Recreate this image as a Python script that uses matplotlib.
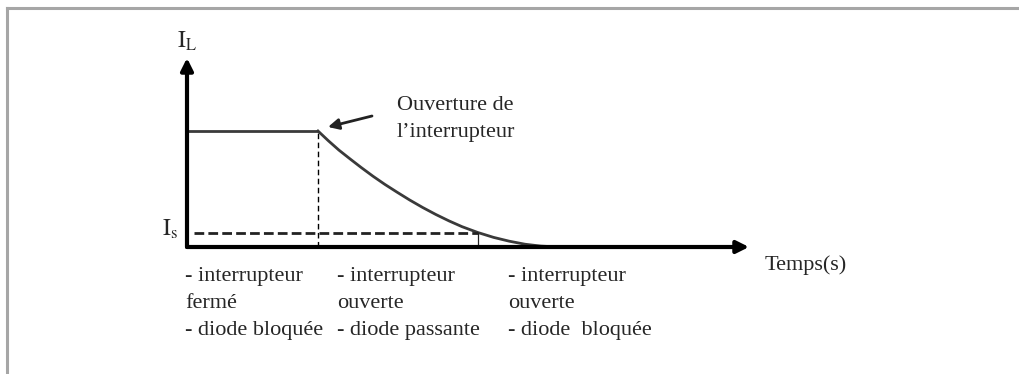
import numpy as np
import matplotlib.pyplot as plt
from matplotlib.lines import Line2D

plt.rcParams['font.family'] = ['Liberation Serif', 'DejaVu Serif']
plt.rcParams['mathtext.fontset'] = 'stix'

t_ouverture = 1.0
I_0 = 1.0
I_s = 0.12
t_Is = 2.22
t_plat = [0.0, 1.0]
I_plat = [1.0, 1.0]
t_decr = [1.0, 1.08, 1.16, 1.244, 1.33, 1.42, 1.51, 1.6, 1.7, 1.8, 1.9, 2.0,
          2.1, 2.22, 2.34, 2.46, 2.58, 2.7, 2.8, 2.87]
I_decr = [1.0, 0.915, 0.835, 0.76, 0.685, 0.61, 0.54, 0.475, 0.405, 0.34, 0.28, 0.225,
          0.175, 0.125, 0.083, 0.05, 0.024, 0.008, 0.002, 0.0]

phases = [
    ["- interrupteur", "fermé", "- diode bloquée"],
    ["- interrupteur", "ouverte", "- diode passante"],
    ["- interrupteur", "ouverte", "- diode  bloquée"],
]
t_phases = [-0.015, 1.145, 2.45]

W, H = 1020, 374
fig = plt.figure(figsize=(W / 100, H / 100), dpi=100)
fig.patch.set_facecolor('white')

# cadre gris (haut et gauche)
fig.add_artist(Line2D([7 / W, 1.0], [1 - 8 / H, 1 - 8 / H], color='#a6a6a6', lw=2.2))
fig.add_artist(Line2D([7 / W, 7 / W], [0.0, 1 - 8 / H], color='#a6a6a6', lw=2.2))

x0, y0 = 187, 247
kx, ky = 131.0, 116.0
xmax = (749 - x0) / kx
ymax = (y0 - 58) / ky
ax = fig.add_axes([x0 / W, (H - y0) / H, (749 - x0) / W, (y0 - 58) / H])
ax.set_xlim(0, xmax)
ax.set_ylim(0, ymax)
ax.axis('off')

col = '#3a3a3a'
ax.plot(t_plat, I_plat, color=col, lw=2.0, solid_capstyle='butt', clip_on=False)
ax.plot(t_decr, I_decr, color=col, lw=2.0, clip_on=False)
ax.plot([t_ouverture, t_ouverture], [0, I_0], color='black', lw=1.0, ls=(0, (4, 2.5)))
ax.plot([0.05, t_Is], [I_s, I_s], color='#222222', lw=2.0, ls=(0, (3.5, 1.5)))
ax.plot([t_Is, t_Is], [0.03, I_s], color='#222222', lw=0.9)

# axes avec fleches
ax.annotate('', xy=(xmax, 0), xytext=(0, 0), annotation_clip=False,
            arrowprops=dict(arrowstyle='-|>', color='black', lw=3.0, mutation_scale=18,
                            shrinkA=0, shrinkB=0))
ax.annotate('', xy=(0, ymax), xytext=(0, 0), annotation_clip=False,
            arrowprops=dict(arrowstyle='-|>', color='black', lw=3.0, mutation_scale=18,
                            shrinkA=0, shrinkB=0))

txt = '#262626'
fs = 16
ax.text(0.0, (y0 - 41) / ky, r'$\mathrm{I_L}$', fontsize=17, color=txt,
        ha='center', va='center', clip_on=False)
ax.text(-0.072, I_s + 0.03, r'$\mathrm{I_s}$', fontsize=17, color=txt,
        ha='right', va='center', clip_on=False)
ax.text((765 - x0) / kx, (y0 - 265) / ky, 'Temps(s)', fontsize=fs, color=txt,
        ha='left', va='center', clip_on=False)

ax.text((397 - x0) / kx, (y0 - 105) / ky, 'Ouverture de', fontsize=fs, color=txt,
        ha='left', va='center', clip_on=False)
ax.text((397 - x0) / kx, (y0 - 133) / ky, 'l\u2019interrupteur', fontsize=fs, color=txt,
        ha='left', va='center', clip_on=False)
ax.annotate('', xy=((328 - x0) / kx, (y0 - 127) / ky), xytext=((372 - x0) / kx, (y0 - 116) / ky),
            annotation_clip=False,
            arrowprops=dict(arrowstyle='-|>', color='#222222', lw=2.0, mutation_scale=16,
                            shrinkA=0, shrinkB=0))

rows_px = [277, 303, 330]
for tx, lignes in zip(t_phases, phases):
    for py, s in zip(rows_px, lignes):
        ax.text(tx, (y0 - py) / ky, s, fontsize=fs, color=txt,
                ha='left', va='center', clip_on=False)

fig.savefig('out.png', dpi=100, facecolor='white')
